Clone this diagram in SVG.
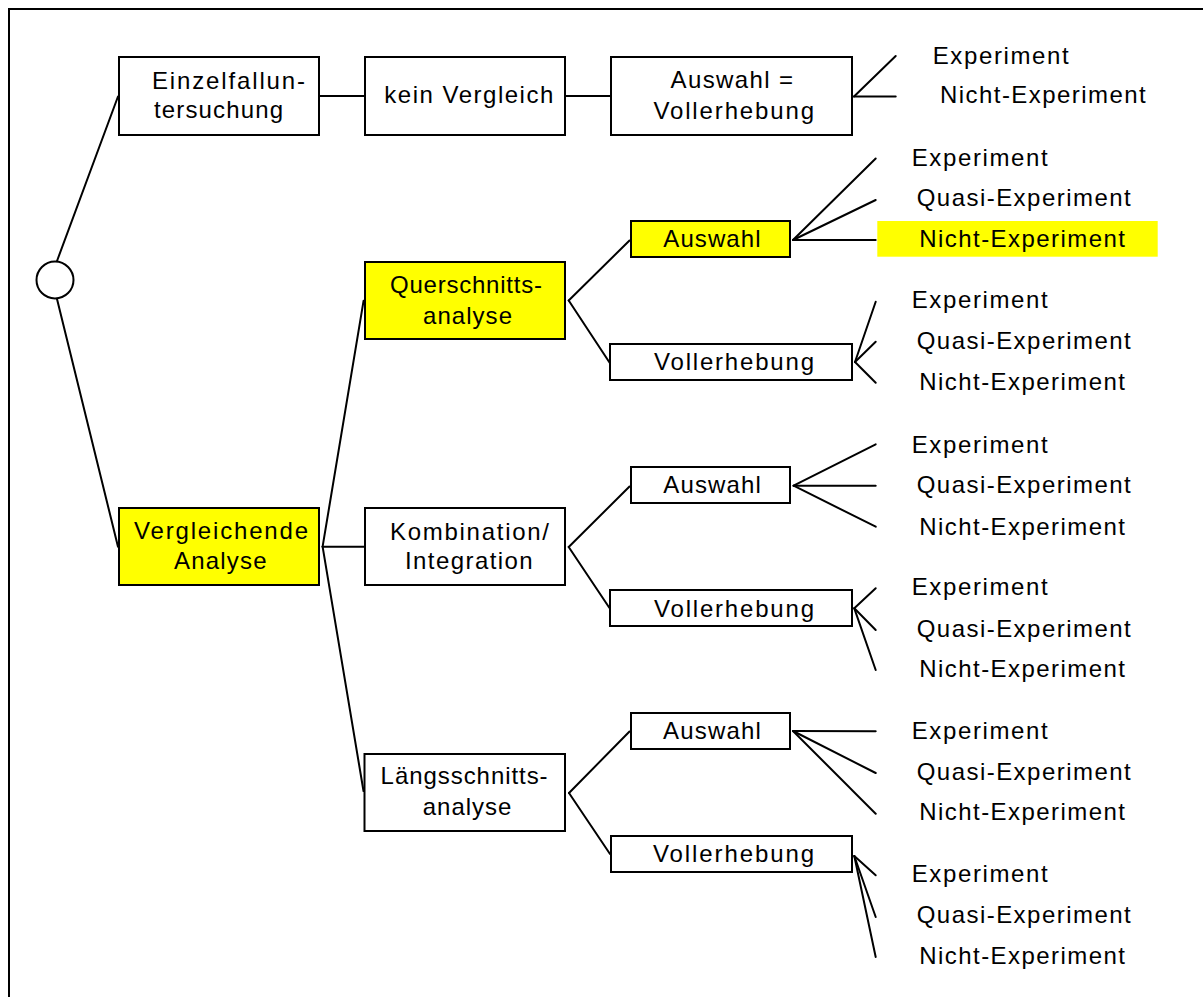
<svg xmlns="http://www.w3.org/2000/svg" width="1203" height="997" viewBox="0 0 1203 997">
<style>
  .box { fill: #ffffff; stroke: #000000; stroke-width: 2; }
  .hl { fill: #ffff00; stroke: #000000; stroke-width: 2; }
  .con { stroke: #000000; stroke-width: 2; fill: none; stroke-linecap: round; }
  text { font-family: "Liberation Sans", Arial, sans-serif; font-size: 24px; fill: #000000; }
</style>
<rect x="0" y="0" width="1203" height="997" fill="#ffffff"/>
<path d="M9,997 V9 H1203" fill="none" stroke="#000000" stroke-width="2"/>

<g id="connectors">
  <line class="con" x1="57" y1="261" x2="118" y2="96.5"/>
  <line class="con" x1="57" y1="299" x2="118" y2="546.7"/>
  <line class="con" x1="320" y1="96" x2="365" y2="96"/>
  <line class="con" x1="566" y1="96" x2="610" y2="96"/>
  <line class="con" x1="322.6" y1="546.7" x2="363.6" y2="300.7"/>
  <line class="con" x1="322.6" y1="546.7" x2="364" y2="546.7"/>
  <line class="con" x1="322.6" y1="546.7" x2="363.5" y2="791"/>
  <line class="con" x1="568.7" y1="300.5" x2="629.5" y2="240.5"/>
  <line class="con" x1="568.7" y1="300.5" x2="609.5" y2="362.5"/>
  <line class="con" x1="568.7" y1="547" x2="629.5" y2="486.5"/>
  <line class="con" x1="568.7" y1="547" x2="609.5" y2="608"/>
  <line class="con" x1="569" y1="793" x2="629.5" y2="731.5"/>
  <line class="con" x1="569" y1="793" x2="610" y2="854"/>
  <!-- leaves top -->
  <line class="con" x1="854" y1="96.5" x2="895.7" y2="56"/>
  <line class="con" x1="854" y1="96.5" x2="895.7" y2="96.5"/>
  <!-- Q-Auswahl -->
  <line class="con" x1="793" y1="240" x2="875.7" y2="158.5"/>
  <line class="con" x1="793" y1="240" x2="875.7" y2="200"/>
  <line class="con" x1="793" y1="240" x2="875.7" y2="240"/>
  <!-- Q-Voll -->
  <line class="con" x1="855" y1="362" x2="875.7" y2="301.7"/>
  <line class="con" x1="855" y1="362" x2="875.7" y2="341.7"/>
  <line class="con" x1="855" y1="362" x2="875.7" y2="382.7"/>
  <!-- K-Auswahl -->
  <line class="con" x1="793.6" y1="485.7" x2="875.7" y2="444.3"/>
  <line class="con" x1="793.6" y1="485.7" x2="875.7" y2="485.7"/>
  <line class="con" x1="793.6" y1="485.7" x2="875.7" y2="526.7"/>
  <!-- K-Voll -->
  <line class="con" x1="854.3" y1="608.3" x2="875.7" y2="588.3"/>
  <line class="con" x1="854.3" y1="608.3" x2="875.7" y2="630"/>
  <line class="con" x1="854.3" y1="608.3" x2="875.7" y2="670"/>
  <!-- L-Auswahl -->
  <line class="con" x1="793" y1="731" x2="875.7" y2="731.3"/>
  <line class="con" x1="793" y1="731" x2="875.7" y2="773"/>
  <line class="con" x1="793" y1="731" x2="875.7" y2="813.7"/>
  <!-- L-Voll -->
  <line class="con" x1="854.3" y1="856" x2="875.7" y2="875.3"/>
  <line class="con" x1="854.3" y1="856" x2="875.7" y2="917"/>
  <line class="con" x1="854.3" y1="856" x2="875.7" y2="957"/>
</g>

<g id="root">
  <circle cx="55" cy="280" r="18.5" fill="#ffffff" stroke="#000000" stroke-width="2"/>
</g>

<g id="einzelfall">
  <rect class="box" x="119" y="57" width="200" height="78"/>
  <text x="152" y="89.3" textLength="153" lengthAdjust="spacing">Einzelfallun-</text>
  <text x="154" y="118.3" textLength="129" lengthAdjust="spacing">tersuchung</text>
</g>
<g id="kein-vergleich">
  <rect class="box" x="365" y="57" width="200" height="78"/>
  <text x="384.3" y="103.3" textLength="169" lengthAdjust="spacing">kein Vergleich</text>
</g>
<g id="auswahl-vollerhebung">
  <rect class="box" x="611" y="57" width="241" height="78"/>
  <text x="670.5" y="88.3" textLength="122.6" lengthAdjust="spacing">Auswahl =</text>
  <text x="653.4" y="119" textLength="160.7" lengthAdjust="spacing">Vollerhebung</text>
</g>
<g id="leaves-top">
  <text x="932.7" y="64" textLength="136" lengthAdjust="spacing">Experiment</text>
  <text x="940" y="103.3" textLength="205.7" lengthAdjust="spacing">Nicht-Experiment</text>
</g>

<g id="vergleichende">
  <rect class="hl" x="119" y="508" width="200" height="77"/>
  <text x="134" y="539.3" textLength="174" lengthAdjust="spacing">Vergleichende</text>
  <text x="174" y="569.3" textLength="92.6" lengthAdjust="spacing">Analyse</text>
</g>

<g id="querschnitt">
  <rect class="hl" x="365" y="262" width="200" height="77"/>
  <text x="390" y="293.3" textLength="152" lengthAdjust="spacing">Querschnitts-</text>
  <text x="423" y="324" textLength="89" lengthAdjust="spacing">analyse</text>
</g>
<g id="q-auswahl">
  <rect class="hl" x="631" y="221" width="159" height="36"/>
  <text x="663.3" y="246.7" textLength="97.3" lengthAdjust="spacing">Auswahl</text>
</g>
<g id="q-auswahl-leaves">
  <rect x="877.3" y="221" width="280.4" height="35.7" fill="#ffff00"/>
  <text x="911.7" y="165.7" textLength="136" lengthAdjust="spacing">Experiment</text>
  <text x="916.7" y="205.7" textLength="214" lengthAdjust="spacing">Quasi-Experiment</text>
  <text x="919.3" y="246.7" textLength="205.7" lengthAdjust="spacing">Nicht-Experiment</text>
</g>
<g id="q-voll">
  <rect class="box" x="610" y="344" width="242" height="36"/>
  <text x="654" y="370" textLength="160" lengthAdjust="spacing">Vollerhebung</text>
</g>
<g id="q-voll-leaves">
  <text x="911.7" y="308.3" textLength="136" lengthAdjust="spacing">Experiment</text>
  <text x="916.7" y="349.3" textLength="214" lengthAdjust="spacing">Quasi-Experiment</text>
  <text x="919.3" y="390" textLength="205.7" lengthAdjust="spacing">Nicht-Experiment</text>
</g>

<g id="kombination">
  <rect class="box" x="365" y="508" width="200" height="77"/>
  <text x="390" y="540" textLength="159" lengthAdjust="spacing">Kombination/</text>
  <text x="405" y="569.3" textLength="127.7" lengthAdjust="spacing">Integration</text>
</g>
<g id="k-auswahl">
  <rect class="box" x="631" y="467" width="159" height="36"/>
  <text x="663.3" y="493.3" textLength="97.5" lengthAdjust="spacing">Auswahl</text>
</g>
<g id="k-auswahl-leaves">
  <text x="911.7" y="452.7" textLength="136" lengthAdjust="spacing">Experiment</text>
  <text x="916.7" y="493.3" textLength="214" lengthAdjust="spacing">Quasi-Experiment</text>
  <text x="919.3" y="535" textLength="205.7" lengthAdjust="spacing">Nicht-Experiment</text>
</g>
<g id="k-voll">
  <rect class="box" x="610" y="590" width="242" height="36"/>
  <text x="654" y="616.7" textLength="160" lengthAdjust="spacing">Vollerhebung</text>
</g>
<g id="k-voll-leaves">
  <text x="911.7" y="595" textLength="136" lengthAdjust="spacing">Experiment</text>
  <text x="916.7" y="636.7" textLength="214" lengthAdjust="spacing">Quasi-Experiment</text>
  <text x="919.3" y="676.7" textLength="205.7" lengthAdjust="spacing">Nicht-Experiment</text>
</g>

<g id="laengsschnitt">
  <rect class="box" x="364.5" y="754" width="200.5" height="77"/>
  <text x="380.6" y="784" textLength="167" lengthAdjust="spacing">Längsschnitts-</text>
  <text x="422.7" y="815" textLength="88.7" lengthAdjust="spacing">analyse</text>
</g>
<g id="l-auswahl">
  <rect class="box" x="631" y="713" width="159" height="36"/>
  <text x="663" y="739.3" textLength="97.8" lengthAdjust="spacing">Auswahl</text>
</g>
<g id="l-auswahl-leaves">
  <text x="911.7" y="738.7" textLength="136" lengthAdjust="spacing">Experiment</text>
  <text x="916.7" y="779.7" textLength="214" lengthAdjust="spacing">Quasi-Experiment</text>
  <text x="919.3" y="820.3" textLength="205.7" lengthAdjust="spacing">Nicht-Experiment</text>
</g>
<g id="l-voll">
  <rect class="box" x="611" y="836" width="241" height="36"/>
  <text x="653" y="861.7" textLength="161" lengthAdjust="spacing">Vollerhebung</text>
</g>
<g id="l-voll-leaves">
  <text x="911.7" y="882" textLength="136" lengthAdjust="spacing">Experiment</text>
  <text x="916.7" y="922.7" textLength="214" lengthAdjust="spacing">Quasi-Experiment</text>
  <text x="919.3" y="963.7" textLength="205.7" lengthAdjust="spacing">Nicht-Experiment</text>
</g>
</svg>
